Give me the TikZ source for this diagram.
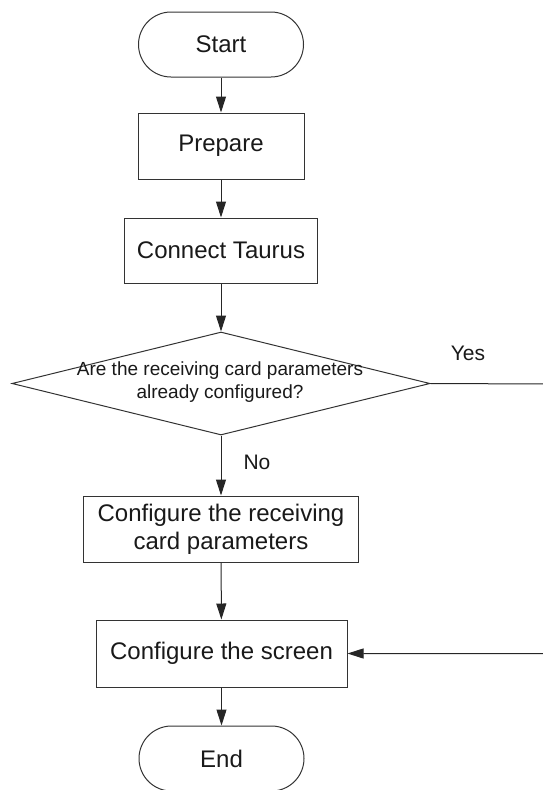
\documentclass[tikz,border=0pt]{standalone}
\usepackage{fontspec}
\setmainfont{Liberation Sans}
\usetikzlibrary{shapes.misc,shapes.geometric,arrows.meta}
\begin{document}
\begin{tikzpicture}[x=1pt,y=1pt, line width=1pt,
  boxtext/.style={font=\fontsize{24}{28}\selectfont, text=black!90, align=center, inner sep=0pt},
  procbox/.style={draw=black!80, rectangle, boxtext},
  termbox/.style={draw=black!80, rounded rectangle, boxtext},
  arr/.style={draw=black!85, -{Triangle[length=16pt,width=10pt]}},
  lbl/.style={font=\fontsize{21}{24}\selectfont, text=black!90, inner sep=0pt}]
\useasboundingbox (0,0) rectangle (543,-790);
\node[termbox, minimum width=165pt, minimum height=65pt] (start) at (221,-44.5) {Start};
\node[procbox, minimum width=166pt, minimum height=66pt] (prep) at (221,-146) {Prepare};
\node[procbox, minimum width=193pt, minimum height=65pt] (conn) at (221,-250.5) {Connect Taurus};
\node[draw=black!80, diamond, minimum width=418pt, minimum height=103pt, inner sep=0pt] (dia) at (221,-383.5) {};
\node[font=\fontsize{19}{23}\selectfont, text=black!90, align=center, inner sep=0pt] (q) at (220,-382) {Are the receiving card parameters\\already configured?};
\node[procbox, minimum width=275pt, minimum height=66pt] (recv) at (221,-529) {Configure the receiving\\card parameters};
\node[procbox, minimum width=251pt, minimum height=67pt] (scr) at (221.5,-653.5) {Configure the screen};
\node[termbox, minimum width=165pt, minimum height=65pt] (end) at (221.5,-758.5) {End};
\node[lbl] (yes) at (468,-353) {Yes};
\node[lbl] (no) at (257,-462) {No};
\coordinate (c1) at (548,-384);
\coordinate (c2) at (548,-653.5);
\draw[arr] (start) -- (prep);
\draw[arr] (prep) -- (conn);
\draw[arr] (conn) -- (dia.north);
\draw[arr] (dia.south) -- (recv);
\draw[arr] (recv) -- (scr);
\draw[arr] (scr) -- (end);
\draw[arr] (dia.east) -- (c1) -- (c2) -- (scr.east);
\end{tikzpicture}
\end{document}
